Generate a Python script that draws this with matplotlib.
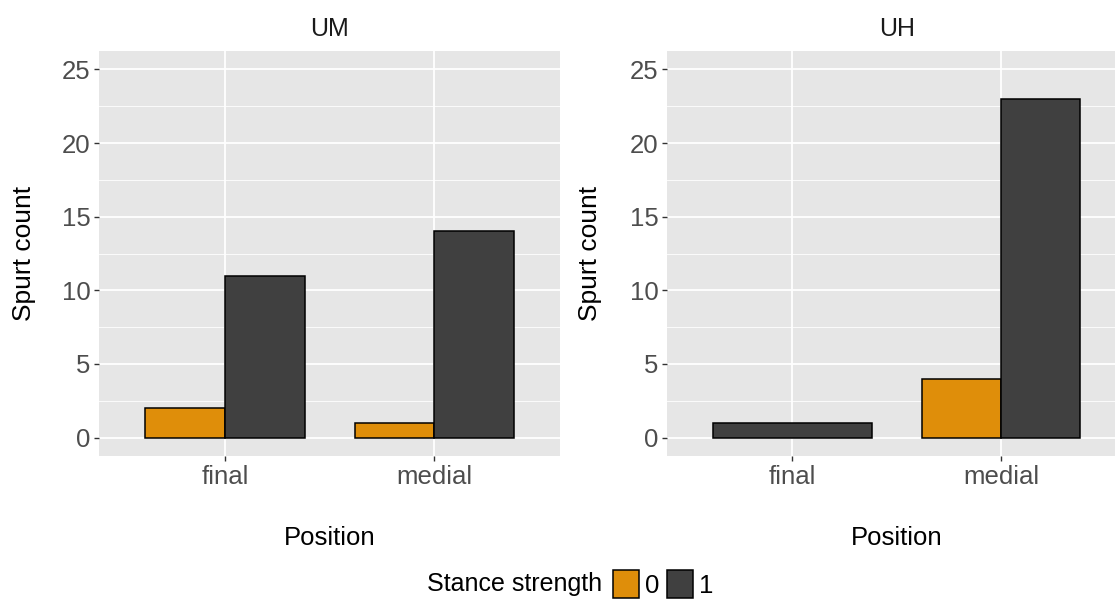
import numpy as np
import matplotlib
matplotlib.use("Agg")
import matplotlib.pyplot as plt
from matplotlib.patches import Patch

plt.rcParams['font.family'] = ['Liberation Sans', 'DejaVu Sans']

# ---- data ----
positions = ['final', 'medial']
groups = ['0', '1']
panels = ['UM', 'UH']
um_strength0 = [2, 1]
um_strength1 = [11, 14]
uh_strength0 = [np.nan, 4]   # no "0" spurts in UH final
uh_strength1 = [1, 23]
yticks = [0, 5, 10, 15, 20, 25]

panel_data = {
    'UM': [um_strength0, um_strength1],
    'UH': [uh_strength0, uh_strength1],
}

colors = ['#DF8E0A', '#404040']
panel_bg = '#E6E6E6'
tick_label_color = '#4D4D4D'

W, H = 1115, 601
fig = plt.figure(figsize=(W / 100, H / 100), dpi=100)

def frac_x(px):
    return px / W

def frac_y(py):
    return 1 - py / H

ax_top, ax_bot = 51, 456
boxes = {
    'UM': (99.3, 560.0),
    'UH': (667.3, 1126.0),
}
ylabel_x = {'UM': 24, 'UH': 590}

total_width = 0.76

for name in panels:
    x0, x1 = boxes[name]
    ax = fig.add_axes([frac_x(x0), frac_y(ax_bot), frac_x(x1 - x0), (ax_bot - ax_top) / H])
    ax.set_facecolor(panel_bg)
    for s in ax.spines.values():
        s.set_visible(False)

    series = panel_data[name]
    for i, cat in enumerate(positions):
        present = [(g, series[g][i]) for g in range(len(groups)) if not np.isnan(series[g][i])]
        n = len(present)
        w = total_width / n
        for j, (g, v) in enumerate(present):
            x = i - total_width / 2 + w * (j + 0.5)
            ax.bar(x, v, width=w, color=colors[g], edgecolor='black', linewidth=1.1, zorder=3)

    ax.set_xlim(-0.6, len(positions) - 1 + 0.6)
    ax.set_ylim(-1.25, 26.25)
    ax.set_xticks(range(len(positions)))
    ax.set_xticklabels(positions)
    ax.set_yticks(yticks)
    ax.set_yticklabels([str(t) for t in yticks])
    ax.set_yticks([2.5, 7.5, 12.5, 17.5, 22.5], minor=True)
    ax.grid(which='major', color='white', linewidth=1.3, zorder=0)
    ax.grid(which='minor', axis='y', color='white', linewidth=0.6, zorder=0)
    ax.set_axisbelow(True)
    ax.tick_params(axis='both', which='major', length=3.5, width=1, color='#333333',
                   labelsize=18.5, labelcolor=tick_label_color, pad=3)
    ax.tick_params(axis='both', which='minor', length=0)

    ax.set_ylabel('Spurt count', fontsize=19, color='black')
    ax.yaxis.set_label_coords((ylabel_x[name] - x0) / (x1 - x0), 0.5)
    ax.yaxis.label.set_va('center')
    ax.set_xlabel('Position', fontsize=18.5, color='black')
    ax.xaxis.set_label_coords(0.5, -(538 - ax_bot) / (ax_bot - ax_top))
    ax.xaxis.label.set_va('center')

    ax.text(0.5, 1 + 22 / (ax_bot - ax_top), name, transform=ax.transAxes,
            ha='center', va='center', fontsize=18, color='#1A1A1A')

# legend
fig.text(frac_x(427), frac_y(584), 'Stance strength', ha='left', va='center', fontsize=18, color='black')
handles = [Patch(facecolor=colors[k], edgecolor='black', linewidth=1.1, label=groups[k]) for k in range(len(groups))]
fig.legend(handles=handles, ncol=2, loc='center left', bbox_to_anchor=(frac_x(613), frac_y(584)),
           frameon=False, fontsize=18.5, handlelength=1.0, handleheight=1.3,
           handletextpad=0.25, columnspacing=0.3, borderaxespad=0, borderpad=0)

fig.savefig('out.png', dpi=100)
